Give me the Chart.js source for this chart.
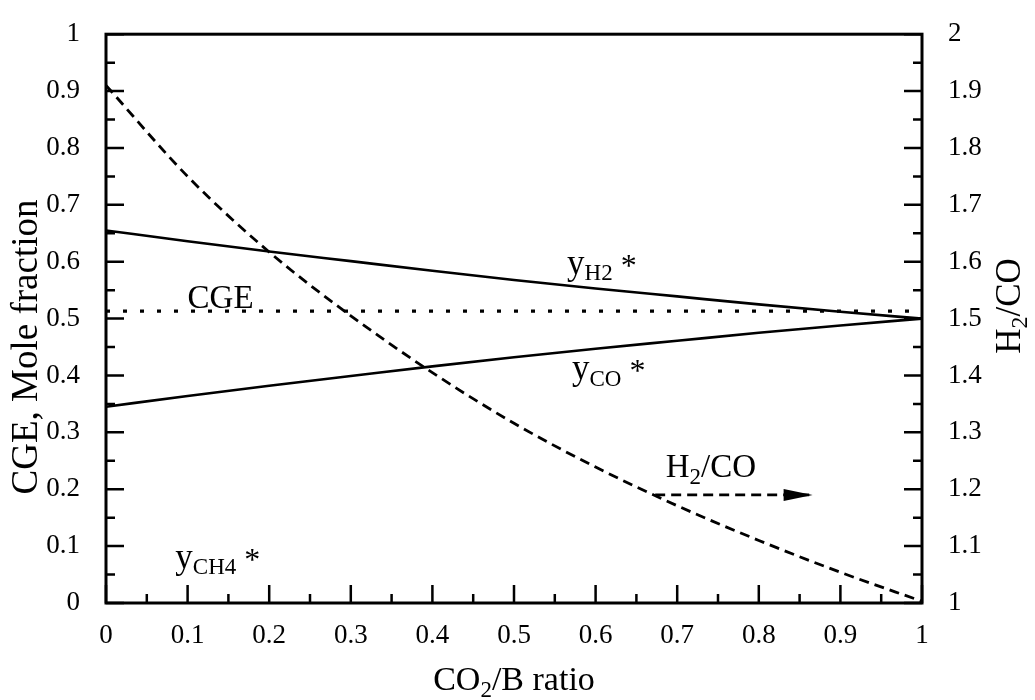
<!DOCTYPE html>
<html>
<head>
<meta charset="utf-8">
<title>CO2/B ratio</title>
<script src="https://cdn.jsdelivr.net/npm/chart.js@4.4.1/dist/chart.umd.min.js"></script>
<style>
  html, body { margin: 0; padding: 0; background: #fff; }
  #wrap { width: 1035px; height: 700px; }
</style>
</head>
<body>
<div id="wrap"><canvas id="chart" width="1035" height="700"></canvas></div>
<script>
// values
const ratio = [0, 0.1, 0.2, 0.3, 0.4, 0.5, 0.6, 0.7, 0.8, 0.9, 1];
const yH2 = [0.655, 0.636, 0.618, 0.601, 0.584, 0.568, 0.553, 0.539, 0.525, 0.512, 0.5];
const yCO = [0.345, 0.364, 0.382, 0.399, 0.416, 0.432, 0.447, 0.461, 0.475, 0.488, 0.5];
const cge = [0.513, 0.513, 0.513, 0.513, 0.513, 0.513, 0.513, 0.513, 0.513, 0.513, 0.513];
const h2co = [1.91, 1.75, 1.617, 1.505, 1.405, 1.316, 1.239, 1.171, 1.11, 1.054, 1.003];

const xTicks = [0, 0.1, 0.2, 0.3, 0.4, 0.5, 0.6, 0.7, 0.8, 0.9, 1];
const leftTicks = [0, 0.1, 0.2, 0.3, 0.4, 0.5, 0.6, 0.7, 0.8, 0.9, 1];
const rightTicks = [1, 1.1, 1.2, 1.3, 1.4, 1.5, 1.6, 1.7, 1.8, 1.9, 2];

// arrow pointing at the right axis
const arrowX = [0.673, 0.866];
const arrowY = [1.19, 1.19];

const FONT = "'Liberation Serif', 'Times New Roman', serif";

const pts = (xs, ys) => xs.map((x, i) => ({ x: x, y: ys[i] }));

// in-plot labels, anchored in data units (left scale)
const notes = [
  { x: 0.565, y: 0.579, parts: [['y', 35, 0], ['H2', 23, 6], [' *', 32, 2]] },
  { x: 0.571, y: 0.393, parts: [['y', 35, 0], ['CO', 23, 7], [' *', 32, 2]] },
  { x: 0.1, y: 0.519, parts: [['CGE', 33, 0]] },
  { x: 0.085, y: 0.062, parts: [['y', 35, 0], ['CH4', 23, 6], [' *', 32, 2]] },
  { x: 0.686, y: 0.221, parts: [['H', 33, 0], ['2', 23, 7], ['/CO', 33, 0]] }
];

function richWidth(ctx, parts) {
  let w = 0;
  parts.forEach(p => { ctx.font = p[1] + 'px ' + FONT; w += ctx.measureText(p[0]).width; });
  return w;
}

function drawRich(ctx, parts, x, y) {
  ctx.textAlign = 'left';
  ctx.textBaseline = 'alphabetic';
  parts.forEach(p => {
    ctx.font = p[1] + 'px ' + FONT;
    ctx.fillText(p[0], x, y + p[2]);
    x += ctx.measureText(p[0]).width;
  });
}

const decor = {
  id: 'decor',
  afterDraw(chart) {
    const { ctx, chartArea: a, scales } = chart;
    ctx.save();
    ctx.strokeStyle = '#000';
    ctx.fillStyle = '#000';
    ctx.lineWidth = 3;
    ctx.setLineDash([]);
    ctx.strokeRect(a.left, a.top, a.right - a.left, a.bottom - a.top);

    // inward ticks, major + minor
    ctx.lineWidth = 2.5;
    const marks = (vals, fn) => {
      vals.forEach((v, i) => {
        fn(v, 18);
        if (i < vals.length - 1) fn((v + vals[i + 1]) / 2, 9);
      });
    };
    ctx.beginPath();
    marks(leftTicks, (v, len) => {
      const py = scales.y.getPixelForValue(v);
      ctx.moveTo(a.left, py); ctx.lineTo(a.left + len, py);
    });
    marks(rightTicks, (v, len) => {
      const py = scales.y2.getPixelForValue(v);
      ctx.moveTo(a.right, py); ctx.lineTo(a.right - len, py);
    });
    marks(xTicks, (v, len) => {
      const px = scales.x.getPixelForValue(v);
      ctx.moveTo(px, a.bottom); ctx.lineTo(px, a.bottom - len);
    });
    ctx.stroke();

    // arrow head
    const tx = scales.x.getPixelForValue(arrowX[1]);
    const ty = scales.y2.getPixelForValue(arrowY[1]);
    ctx.beginPath();
    ctx.moveTo(tx, ty);
    ctx.lineTo(tx - 29, ty - 6);
    ctx.lineTo(tx - 29, ty + 6);
    ctx.closePath();
    ctx.fill();

    // labels inside the plot
    notes.forEach(n => {
      drawRich(ctx, n.parts, scales.x.getPixelForValue(n.x), scales.y.getPixelForValue(n.y));
    });

    // axis titles
    const bottomTitle = [['CO', 34, 0], ['2', 23, 7], ['/B ratio', 34, 0]];
    const bw = richWidth(ctx, bottomTitle);
    drawRich(ctx, bottomTitle, (a.left + a.right) / 2 - bw / 2, 690);

    const leftTitle = [['CGE, Mole fraction', 37, 0]];
    const lw = richWidth(ctx, leftTitle);
    ctx.save();
    ctx.translate(37, 347 + lw / 2);
    ctx.rotate(-Math.PI / 2);
    drawRich(ctx, leftTitle, 0, 0);
    ctx.restore();

    const rightTitle = [['H', 35, 0], ['2', 24, 7], ['/CO', 35, 0]];
    const rw = richWidth(ctx, rightTitle);
    ctx.save();
    ctx.translate(1020, 306 + rw / 2);
    ctx.rotate(-Math.PI / 2);
    drawRich(ctx, rightTitle, 0, 0);
    ctx.restore();

    ctx.restore();
  }
};

Chart.defaults.color = '#000';

const tickFont = { family: FONT, size: 27 };

new Chart(document.getElementById('chart'), {
  type: 'line',
  data: {
    datasets: [
      { label: 'yH2', data: pts(ratio, yH2), yAxisID: 'y', borderColor: '#000', borderWidth: 2.6 },
      { label: 'yCO', data: pts(ratio, yCO), yAxisID: 'y', borderColor: '#000', borderWidth: 2.6 },
      { label: 'CGE', data: pts(ratio, cge), yAxisID: 'y', borderColor: '#000', borderWidth: 3.2, borderDash: [4, 13] },
      { label: 'H2/CO', data: pts(ratio, h2co), yAxisID: 'y2', borderColor: '#000', borderWidth: 2.8, borderDash: [10, 6] },
      { label: 'arrow', data: pts(arrowX, arrowY), yAxisID: 'y2', borderColor: '#000', borderWidth: 2.8, borderDash: [10, 6] }
    ]
  },
  options: {
    responsive: false,
    animation: false,
    events: [],
    layout: { padding: { top: 23, left: 0, right: 0, bottom: 0 } },
    elements: {
      point: { radius: 0 },
      line: { cubicInterpolationMode: 'monotone', fill: false }
    },
    plugins: { legend: { display: false }, tooltip: { enabled: false } },
    scales: {
      x: {
        type: 'linear', min: 0, max: 1,
        grid: { display: false }, border: { display: false },
        afterBuildTicks: s => { s.ticks = xTicks.map(v => ({ value: v })); },
        afterFit: s => { s.height = 97; },
        ticks: { font: tickFont, padding: 9, maxRotation: 0, callback: v => String(v) }
      },
      y: {
        type: 'linear', position: 'left', min: 0, max: 1,
        grid: { display: false }, border: { display: false },
        afterBuildTicks: s => { s.ticks = leftTicks.map(v => ({ value: v })); },
        afterFit: s => { s.width = 106; },
        ticks: { font: tickFont, padding: 18, callback: v => String(v) }
      },
      y2: {
        type: 'linear', position: 'right', min: 1, max: 2,
        grid: { display: false }, border: { display: false },
        afterBuildTicks: s => { s.ticks = rightTicks.map(v => ({ value: v })); },
        afterFit: s => { s.width = 113; },
        ticks: { font: tickFont, padding: 18, callback: v => String(v) }
      }
    }
  },
  plugins: [decor]
});
</script>
</body>
</html>
